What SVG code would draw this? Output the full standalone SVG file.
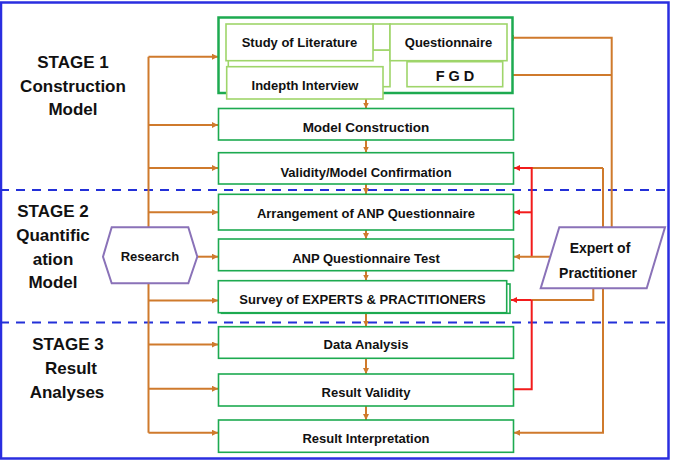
<svg xmlns="http://www.w3.org/2000/svg" width="674" height="464" viewBox="0 0 674 464">
<defs>
<style>
.t{font-family:"Liberation Sans",Arial,sans-serif;font-weight:bold;fill:#111;text-anchor:middle}
.bx{fill:#fff;stroke:#1daa50;stroke-width:1.6}
.lg{fill:#fff;stroke:#9fd56a;stroke-width:1.6}
.o{fill:none;stroke:#cf7a2c;stroke-width:2}
.r{fill:none;stroke:#f21b1b;stroke-width:2}
.dash{stroke:#2330d8;stroke-width:2;stroke-dasharray:9 7}
.pu{fill:#fff;stroke:#8a72b8;stroke-width:2}
</style>
<marker id="ao" viewBox="0 0 6 6" refX="6" refY="3" markerWidth="6" markerHeight="6" markerUnits="userSpaceOnUse" orient="auto"><path d="M0,0 L6,3 L0,6 z" fill="#cf7a2c"/></marker>
<marker id="ar" viewBox="0 0 6 6" refX="6" refY="3" markerWidth="6" markerHeight="6" markerUnits="userSpaceOnUse" orient="auto"><path d="M0,0 L6,3 L0,6 z" fill="#f21b1b"/></marker>
</defs>
<rect width="674" height="464" fill="#fff"/>
<rect x="1" y="2.5" width="667.5" height="456" fill="none" stroke="#2a2ee0" stroke-width="2.5"/>
<line class="dash" x1="0" y1="190" x2="668" y2="190"/>
<line class="dash" x1="0" y1="322.5" x2="668" y2="322.5"/>

<g id="stage1"><text class="t" font-size="17" x="73" y="68">STAGE 1</text><text class="t" font-size="17" x="73" y="92">Construction</text><text class="t" font-size="17" x="73" y="115">Model</text></g>
<g id="stage2"><text class="t" font-size="17" x="53" y="217">STAGE 2</text><text class="t" font-size="17" x="53" y="241">Quantific</text><text class="t" font-size="17" x="53" y="265">ation</text><text class="t" font-size="17" x="53" y="288">Model</text></g>
<g id="stage3"><text class="t" font-size="17" x="68" y="350">STAGE 3</text><text class="t" font-size="17" x="71" y="374">Result</text><text class="t" font-size="17" x="67" y="398">Analyses</text></g>

<g id="connectors">
<line class="o" x1="148.5" y1="56.7" x2="148.5" y2="432.7"/>
<line class="o" x1="148.5" y1="56.7" x2="218" y2="56.7" marker-end="url(#ao)"/>
<line class="o" x1="148.5" y1="125" x2="218" y2="125" marker-end="url(#ao)"/>
<line class="o" x1="148.5" y1="168" x2="218" y2="168" marker-end="url(#ao)"/>
<line class="o" x1="148.5" y1="212.3" x2="218" y2="212.3" marker-end="url(#ao)"/>
<line class="o" x1="197" y1="256.7" x2="218" y2="256.7" marker-end="url(#ao)"/>
<line class="o" x1="148.5" y1="300.5" x2="218" y2="300.5" marker-end="url(#ao)"/>
<line class="o" x1="148.5" y1="344.5" x2="218" y2="344.5" marker-end="url(#ao)"/>
<line class="o" x1="148.5" y1="388.7" x2="218" y2="388.7" marker-end="url(#ao)"/>
<line class="o" x1="148.5" y1="432.7" x2="218" y2="432.7" marker-end="url(#ao)"/>
<line class="o" x1="366" y1="99" x2="366" y2="108.5" marker-end="url(#ao)"/>
<line class="o" x1="366" y1="140" x2="366" y2="152.5" marker-end="url(#ao)"/>
<line class="o" x1="366" y1="184" x2="366" y2="194" marker-end="url(#ao)"/>
<line class="o" x1="366" y1="230" x2="366" y2="239" marker-end="url(#ao)"/>
<line class="o" x1="366" y1="270.7" x2="366" y2="280.5" marker-end="url(#ao)"/>
<line class="o" x1="366" y1="313" x2="366" y2="326.5" marker-end="url(#ao)"/>
<line class="o" x1="366" y1="358.3" x2="366" y2="374" marker-end="url(#ao)"/>
<line class="o" x1="366" y1="406" x2="366" y2="420" marker-end="url(#ao)"/>
<line class="o" x1="406.7" y1="75" x2="390.5" y2="75" marker-end="url(#ao)"/>
<polyline class="o" points="611.7,228 611.7,37.7 508,37.7" marker-end="url(#ao)"/>
<line class="o" x1="611.7" y1="75" x2="503.5" y2="75" marker-end="url(#ao)"/>
<line class="o" x1="603" y1="168" x2="531.7" y2="168"/>
<polyline class="o" points="603,168 603,432.7 514,432.7" marker-end="url(#ao)"/>
<polyline class="r" points="531.7,256.7 531.7,168 514,168" marker-end="url(#ar)"/>
<line class="r" x1="531.7" y1="212.3" x2="514" y2="212.3" marker-end="url(#ar)"/>
<line class="o" x1="551" y1="256.7" x2="514" y2="256.7" marker-end="url(#ao)"/>
<polyline class="o" points="593.3,286 593.3,300 531.7,300"/>
<line class="r" x1="531.7" y1="300" x2="511" y2="300" marker-end="url(#ar)"/>
<polyline class="r" points="531.7,300 531.7,389.3 514,389.3"/>
</g>

<g id="research"><polygon class="pu" points="103,256.7 111.7,227.3 188.3,227.3 197.3,256.7 188.3,283.3 111.7,283.3"/><text class="t" font-size="13" x="150" y="261">Research</text></g>
<g id="expert"><polygon class="pu" points="559.3,227.3 665,227.3 646.7,288.3 540.7,288.3"/><text class="t" font-size="14" x="600" y="253">Expert of</text><text class="t" font-size="14" x="598" y="278">Practitioner</text></g>

<g id="stage1-group">
<rect x="218.5" y="17.5" width="294" height="75.5" fill="#fff" stroke="#1daa50" stroke-width="2.5"/>
<rect class="lg" x="228.3" y="50" width="161.7" height="36.7"/>
<rect class="lg" x="373" y="24" width="17" height="26"/>
</g>
<g id="literature"><rect class="lg" x="226" y="24" width="147" height="36.7"/><text class="t" font-size="13" x="299.5" y="47">Study of Literature</text></g>
<g id="questionnaire"><rect class="lg" x="390" y="24" width="117" height="36.7"/><text class="t" font-size="13" x="448.5" y="47">Questionnaire</text></g>
<g id="fgd"><rect class="lg" x="407" y="61.7" width="95.7" height="25"/><text class="t" font-size="14.5" x="455" y="81">F G D</text></g>
<g id="interview"><rect class="lg" x="226.7" y="66.7" width="156.3" height="32.3"/><text class="t" font-size="13" x="305" y="89.5">Indepth Interview</text></g>

<g id="model"><rect class="bx" x="218.5" y="108.5" width="295" height="31.5"/><text class="t" font-size="13.5" x="366" y="131.5">Model Construction</text></g>
<g id="validity"><rect class="bx" x="218.5" y="152.7" width="295" height="31.3"/><text class="t" font-size="13" x="366" y="176.5">Validity/Model Confirmation</text></g>
<g id="arrangement"><rect class="bx" x="218.5" y="194.3" width="295" height="35.7"/><text class="t" font-size="13" x="366" y="218.3">Arrangement of ANP Questionnaire</text></g>
<g id="anptest"><rect class="bx" x="218.5" y="239" width="295" height="31.7"/><text class="t" font-size="13" x="366" y="263">ANP Questionnaire Test</text></g>
<g id="survey"><rect class="bx" x="221.5" y="284" width="288.5" height="29.3"/><rect class="bx" x="218.3" y="280.7" width="288.4" height="32"/><text class="t" font-size="13" x="362.5" y="303.5">Survey of EXPERTS &amp; PRACTITIONERS</text></g>
<g id="data"><rect class="bx" x="218.5" y="326.7" width="295" height="31.6"/><text class="t" font-size="13" x="366" y="349.3">Data Analysis</text></g>
<g id="resultvalidity"><rect class="bx" x="218.5" y="374" width="295" height="32"/><text class="t" font-size="13" x="366" y="396.7">Result Validity</text></g>
<g id="interpretation"><rect class="bx" x="218.5" y="420" width="295" height="32.3"/><text class="t" font-size="13" x="366" y="442.7">Result Interpretation</text></g>
</svg>
